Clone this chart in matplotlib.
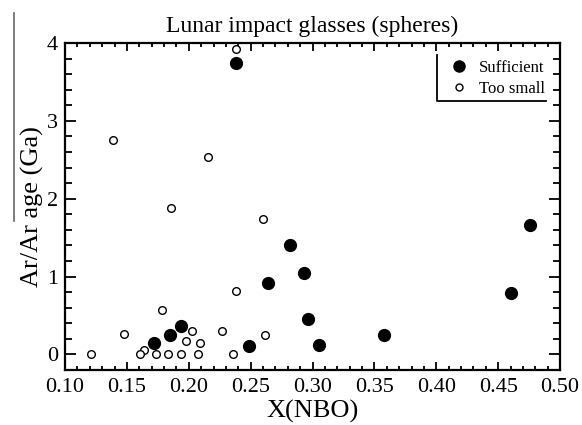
import matplotlib.pyplot as plt
from matplotlib.lines import Line2D
from matplotlib.ticker import MultipleLocator

# data
suff_x = [0.238, 0.172, 0.185, 0.194, 0.249, 0.264, 0.282, 0.293, 0.296, 0.305, 0.358, 0.460, 0.476]
suff_y = [3.74, 0.15, 0.25, 0.365, 0.11, 0.92, 1.41, 1.04, 0.46, 0.12, 0.25, 0.785, 1.66]

small_x = [0.238, 0.139, 0.2155, 0.186, 0.260, 0.238, 0.178, 0.148, 0.203, 0.198, 0.209,
           0.227, 0.262, 0.164, 0.121, 0.161, 0.1735, 0.183, 0.194, 0.2075, 0.236]
small_y = [3.92, 2.76, 2.54, 1.88, 1.74, 0.815, 0.566, 0.26, 0.30, 0.167, 0.145,
           0.30, 0.253, 0.055, 0.0, 0.0, 0.0, 0.0, 0.0, 0.0, 0.0]

plt.rcParams['font.family'] = ['Liberation Serif', 'DejaVu Serif']

fig = plt.figure(figsize=(5.82, 4.25), dpi=100)
ax = fig.add_axes([0.1117, 0.1294, 0.8505, 0.7694])

ax.plot(suff_x, suff_y, 'o', color='black', markersize=8.5, label='Sufficient')
ax.plot(small_x, small_y, 'o', markerfacecolor='white', markeredgecolor='black',
        markeredgewidth=1.0, markersize=5.5, label='Too small')

ax.set_xlim(0.10, 0.50)
ax.set_ylim(-0.2, 4.0)
ax.xaxis.set_major_locator(MultipleLocator(0.05))
ax.xaxis.set_minor_locator(MultipleLocator(0.01))
ax.yaxis.set_major_locator(MultipleLocator(1))
ax.yaxis.set_minor_locator(MultipleLocator(0.2))
ax.xaxis.set_major_formatter(plt.FuncFormatter(lambda v, p: '%.2f' % v))

for s in ax.spines.values():
    s.set_linewidth(1.6)
ax.tick_params(which='both', direction='in', top=True, right=True, labelsize=16, width=1.3)
ax.tick_params(axis='x', which='major', length=5.5, pad=6)
ax.tick_params(axis='x', which='minor', length=3)
ax.tick_params(axis='y', which='major', length=8, pad=5)
ax.tick_params(axis='y', which='minor', length=5)

ax.set_xlabel('X(NBO)', fontsize=19, labelpad=2)
ax.set_ylabel('Ar/Ar age (Ga)', fontsize=19, labelpad=2)
ax.set_title('Lunar impact glasses (spheres)', fontsize=17, pad=8)

leg = ax.legend(loc='upper right', bbox_to_anchor=(0.99, 0.98), frameon=False,
                fontsize=12, handletextpad=0.6, borderaxespad=0.2, labelspacing=0.3,
                handlelength=1.2)
leg.legend_handles[0].set_markersize(8)
leg.legend_handles[1].set_markersize(5)

# partial legend box: left and bottom edges
ax.add_line(Line2D([0.752, 0.752, 0.972], [0.962, 0.822, 0.822], transform=ax.transAxes,
                   color='black', linewidth=1.3))

# thin grey line at the far left of the figure
fig.add_artist(Line2D([0.024, 0.024], [0.97, 0.48], transform=fig.transFigure,
                      color='#666666', linewidth=1.2))

fig.savefig('out.png', dpi=100)
